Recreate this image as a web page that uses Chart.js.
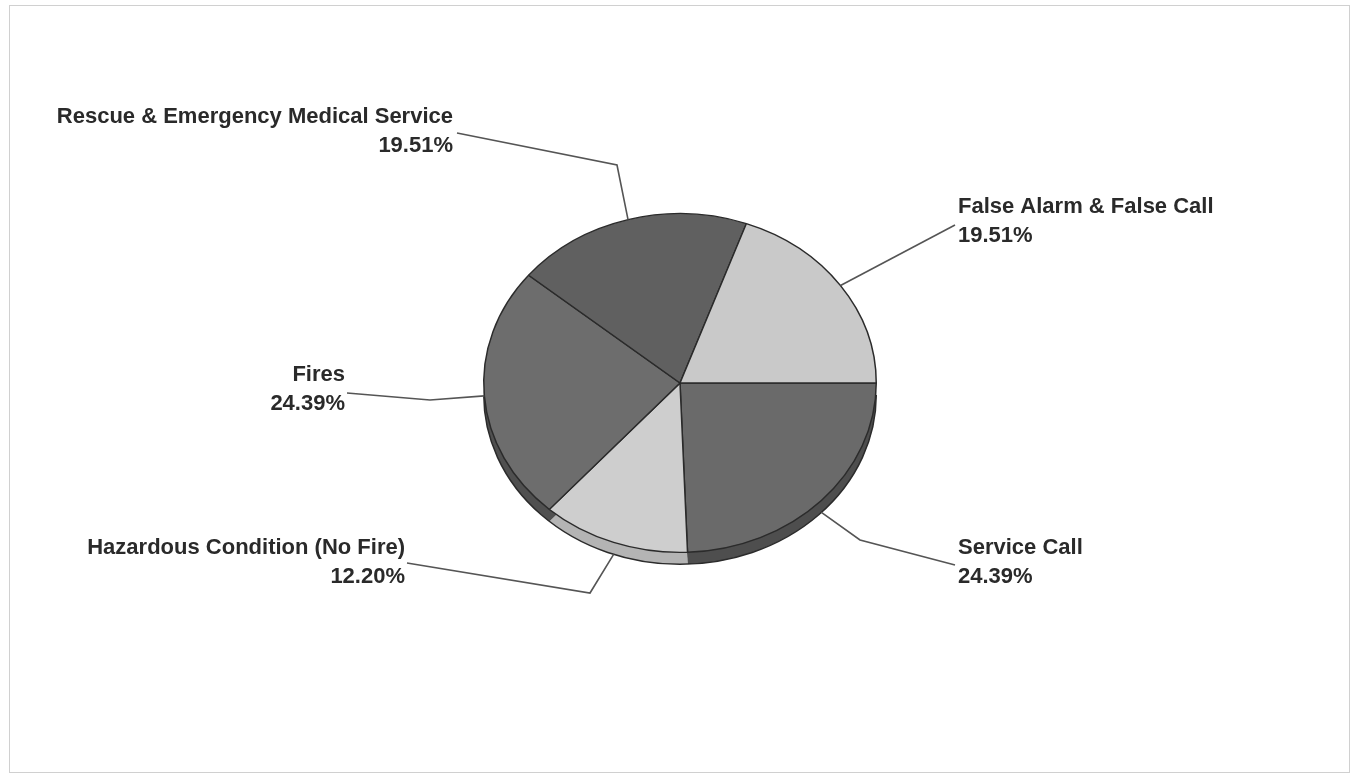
<!DOCTYPE html>
<html>
<head>
<meta charset="utf-8">
<script src="https://cdn.jsdelivr.net/npm/chart.js@4/dist/chart.umd.min.js"></script>
<style>
  body { margin: 0; background: #fff; }
  #wrap { width: 1353px; height: 777px; }
</style>
</head>
<body>
<div id="wrap"><canvas id="myChart" width="1353" height="777"></canvas></div>
<script>
// data, clockwise from 3 o'clock
const categories = ['Service Call', 'Hazardous Condition (No Fire)', 'Fires', 'Rescue & Emergency Medical Service', 'False Alarm & False Call'];
const shares = [24.39, 12.20, 24.39, 19.51, 19.51];

const faceColors = ['#6a6a6a', '#cecece', '#6d6d6d', '#606060', '#c9c9c9'];
const sideColors = ['#4e4e4e', '#b4b4b4', '#505050', '#474747', '#a8a8a8'];

// label placement, offsets from the pie centre
const labelLayout = [
    { tx: 278, ty: 165, align: 'left', from: [275, 182], elbow: [180, 157] },
    { tx: -275, ty: 165, align: 'right', from: [-273, 180], elbow: [-90, 210] },
    { tx: -335, ty: -8, align: 'right', from: [-333, 10], elbow: [-250, 17] },
    { tx: -227, ty: -266, align: 'right', from: [-223, -250], elbow: [-63, -218] },
    { tx: 278, ty: -176, align: 'left', from: [275, -158], elbow: null }
];

const tilt = 0.863;
const depth = 12;

const pagePlugin = {
    id: 'page',
    beforeDraw(chart) {
        const ctx = chart.ctx;
        ctx.save();
        ctx.fillStyle = '#fff';
        ctx.fillRect(0, 0, chart.width, chart.height);
        ctx.strokeStyle = '#d0d0d0';
        ctx.lineWidth = 1;
        ctx.strokeRect(9.5, 5.5, 1340, 767);
        ctx.restore();
    }
};

const tiltPlugin = {
    id: 'tilt',
    beforeDatasetsDraw(chart) {
        const ctx = chart.ctx;
        const arcs = chart.getDatasetMeta(0).data;
        // side of the disc
        arcs.forEach(function (a, i) {
            ctx.save();
            ctx.translate(a.x, a.y + depth);
            ctx.scale(1, tilt);
            ctx.beginPath();
            ctx.moveTo(0, 0);
            ctx.arc(0, 0, a.outerRadius, a.startAngle, a.endAngle);
            ctx.closePath();
            ctx.fillStyle = sideColors[i];
            ctx.fill();
            ctx.restore();
        });
        ctx.save();
        ctx.translate(0, 0);
        if (arcs.length) {
            const a = arcs[0];
            ctx.beginPath();
            ctx.ellipse(a.x, a.y + depth, a.outerRadius, a.outerRadius * tilt, 0, 0, Math.PI);
            ctx.strokeStyle = '#2b2b2b';
            ctx.lineWidth = 1.5;
            ctx.stroke();
        }
        ctx.restore();
        // squash the face
        ctx.save();
        const cx = (chart.chartArea.left + chart.chartArea.right) / 2;
        const cy = (chart.chartArea.top + chart.chartArea.bottom) / 2;
        ctx.translate(cx, cy);
        ctx.scale(1, tilt);
        ctx.translate(-cx, -cy);
    },
    afterDatasetsDraw(chart) {
        chart.ctx.restore();
    }
};

const labelPlugin = {
    id: 'labels',
    afterDraw(chart) {
        const ctx = chart.ctx;
        const arcs = chart.getDatasetMeta(0).data;
        ctx.save();
        arcs.forEach(function (a, i) {
            const L = labelLayout[i];
            const mid = (a.startAngle + a.endAngle) / 2;
            const ex = a.x + a.outerRadius * Math.cos(mid);
            let ey = a.y + a.outerRadius * tilt * Math.sin(mid);
            if (Math.sin(mid) > 0.3) ey += depth;
            ctx.beginPath();
            ctx.moveTo(a.x + L.from[0], a.y + L.from[1]);
            if (L.elbow) ctx.lineTo(a.x + L.elbow[0], a.y + L.elbow[1]);
            ctx.lineTo(ex, ey);
            ctx.strokeStyle = '#555';
            ctx.lineWidth = 1.6;
            ctx.stroke();

            ctx.fillStyle = '#2a2a2a';
            ctx.font = 'bold 22px "Liberation Sans", Arial, sans-serif';
            ctx.textAlign = L.align;
            ctx.textBaseline = 'middle';
            ctx.fillText(categories[i], a.x + L.tx, a.y + L.ty);
            ctx.fillText(shares[i].toFixed(2) + '%', a.x + L.tx, a.y + L.ty + 29);
        });
        ctx.restore();
    }
};

function drawChart() {
    var ctx = document.getElementById('myChart').getContext('2d');
    var myChart = new Chart(ctx, {
        type: 'pie',
        data: {
            labels: categories,
            datasets: [{
                data: shares,
                backgroundColor: faceColors,
                borderColor: '#2b2b2b',
                borderWidth: 1.5
            }]
        },
        options: {
            responsive: false,
            animation: false,
            devicePixelRatio: 1,
            rotation: 90,
            layout: { padding: { left: 483, right: 476, top: 186, bottom: 197 } },
            plugins: {
                legend: { display: false },
                tooltip: { enabled: false }
            }
        },
        plugins: [pagePlugin, tiltPlugin, labelPlugin]
    });
}

drawChart();
</script>
</body>
</html>
